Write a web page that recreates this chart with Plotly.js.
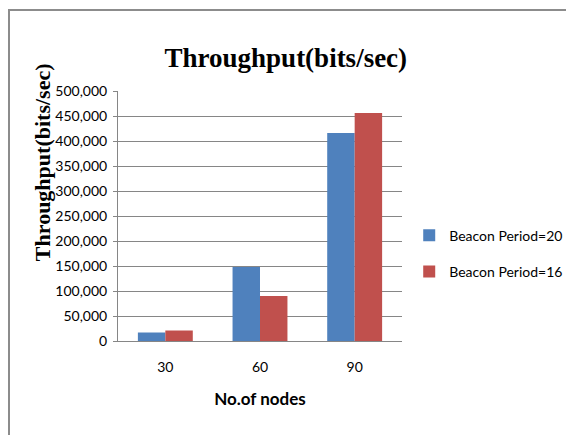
<!DOCTYPE html>
<html>
<head>
<meta charset="utf-8">
<script src="https://cdn.plot.ly/plotly-3.0.1.min.js"></script>
<style>
html,body{margin:0;padding:0;background:#fff;}
#wrap{position:relative;width:566px;height:435px;}
#chart{width:566px;height:435px;}
#frameTop{position:absolute;left:8px;top:9px;width:558px;height:0;border-top:2px solid #8c8c8c;}
#frameLeft{position:absolute;left:8px;top:9px;width:0;height:426px;border-left:2px solid #8c8c8c;}
</style>
</head>
<body>
<div id="wrap">
<div id="chart"></div>
<div id="frameTop"></div>
<div id="frameLeft"></div>
</div>
<script>
const categories = ["30", "60", "90"];
const seriesNames = ["Beacon Period=20", "Beacon Period=16"];
const beacon20 = [17000, 148000, 416000];
const beacon16 = [21000, 90000, 456000];
const yTicks = [0, 50000, 100000, 150000, 200000, 250000, 300000, 350000, 400000, 450000, 500000];

const traces = [
  {type: "bar", name: seriesNames[0], x: categories, y: beacon20, marker: {color: "#4F81BD"}, legendgroup: "a"},
  {type: "bar", name: seriesNames[1], x: categories, y: beacon16, marker: {color: "#C0504D"}, legendgroup: "b"}
];

const layout = {
  width: 566, height: 435,
  margin: {l: 118, r: 164, t: 91, b: 94, autoexpand: false},
  paper_bgcolor: "#fff", plot_bgcolor: "#fff",
  font: {family: "Lato, 'Open Sans', sans-serif", size: 14, color: "#000"},
  barmode: "group",
  bargap: 0.42,
  bargroupgap: 0,
  title: {text: "<b>Throughput(bits/sec)</b>", font: {family: "'Liberation Serif', 'Times New Roman', serif", size: 27, color: "#000"},
          xref: "container", yref: "container", x: 0.505, xanchor: "center", y: 0.867, yanchor: "middle"},
  xaxis: {type: "category", showline: true, linecolor: "#868686", linewidth: 1, ticks: "", showgrid: false,
          tickfont: {size: 14}, ticklabelstandoff: 13, automargin: false,
          title: {text: "<b>No.of nodes</b>", font: {size: 17}, standoff: 19}},
  yaxis: {range: [0, 500000], tickvals: yTicks, tickformat: ",d", showline: true, linecolor: "#868686", linewidth: 1,
          ticks: "outside", ticklen: 4, tickcolor: "#868686", gridcolor: "#868686", gridwidth: 1, automargin: false,
          tickfont: {size: 14}, ticklabelstandoff: 3, zeroline: false},
  legend: {xref: "container", yref: "container", x: 0.723, xanchor: "left", y: 0.417, yanchor: "middle",
           font: {size: 14}, traceorder: "grouped", tracegroupgap: 15, itemwidth: 30},
  annotations: [
    {text: "<b>Throughput(bits/sec)</b>", xref: "paper", yref: "paper", x: -0.268, y: 0.715, xanchor: "center", yanchor: "middle",
     textangle: -90, showarrow: false, font: {family: "'Liberation Serif', 'Times New Roman', serif", size: 22, color: "#000"}}
  ],
  showlegend: true
};

Plotly.newPlot("chart", traces, layout, {displayModeBar: false, staticPlot: true});
</script>
</body>
</html>
